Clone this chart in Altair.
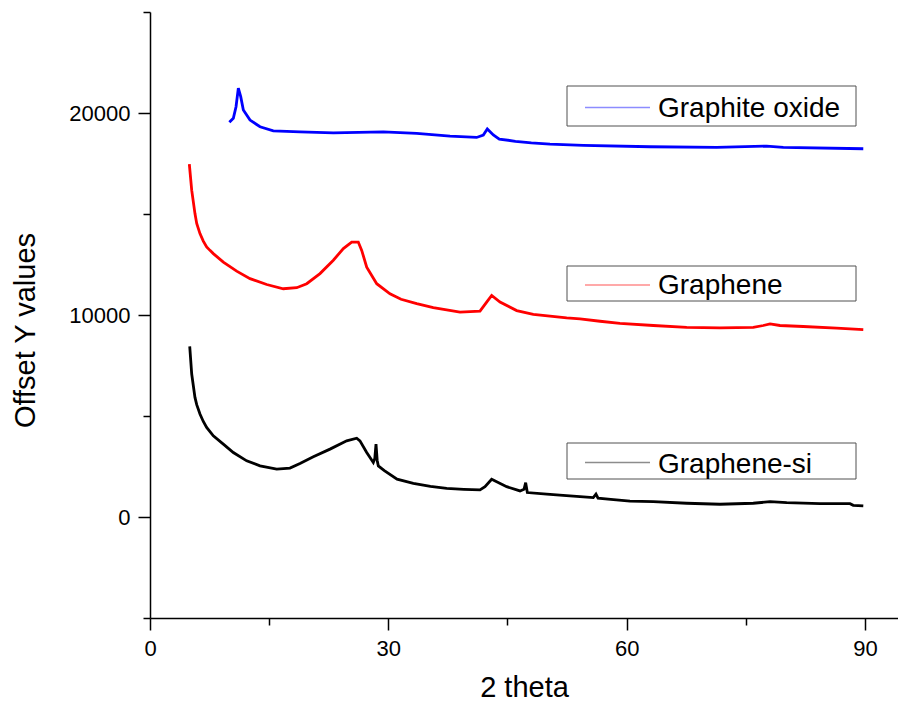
import altair as alt
import pandas as pd

# Stacked XRD patterns (offset intensities) for three samples
series_names = ["Graphite oxide", "Graphene", "Graphene-si"]
series_colors = ["#0000ff", "#ff0000", "#000000"]

go_theta = [9.99, 10.49, 10.83, 11.12, 11.42, 11.75, 12.59, 13.85, 15.52, 18.88,
            23.08, 29.37, 33.57, 37.77, 41.12, 41.96, 42.46, 43.22, 43.97, 46.0,
            48.0, 50.35, 54.55, 62.94, 71.33, 77.63, 79.72, 89.79]
go_y = [19540, 19740, 20310, 21230, 20810, 20150, 19650, 19320, 19120, 19070,
        19020, 19070, 18990, 18860, 18790, 18910, 19210, 18910, 18710, 18600,
        18520, 18460, 18400, 18330, 18300, 18360, 18300, 18230]

gr_theta = [4.95, 5.25, 5.66, 5.88, 6.29, 6.71, 7.13, 7.55, 7.97, 9.23, 10.91,
            12.59, 14.69, 16.78, 18.47, 19.73, 21.4, 23.08, 24.34, 25.39, 26.22,
            26.65, 27.28, 28.54, 30.21, 31.6, 33.57, 35.66, 39.02, 41.54, 42.38,
            43.01, 44.06, 46.16, 48.25, 52.45, 54.13, 56.65, 59.16, 63.36, 67.56,
            71.75, 75.94, 77.2, 78.05, 79.3, 82.23, 86.44, 89.79]
gr_y = [17470, 16180, 15020, 14530, 14030, 13660, 13370, 13200, 13040, 12620, 12170,
        11800, 11510, 11300, 11350, 11550, 12050, 12710, 13290, 13610, 13610,
        13200, 12370, 11550, 11050, 10780, 10560, 10360, 10140, 10190, 10640,
        10970, 10640, 10220, 10030, 9860, 9810, 9690, 9590, 9480, 9390,
        9360, 9390, 9480, 9560, 9480, 9430, 9350, 9280]

gs_theta = [5.0, 5.25, 5.66, 5.88, 6.29, 6.71, 7.13, 7.55, 7.97, 9.23, 10.49,
            12.17, 13.85, 15.95, 17.62, 18.88, 20.56, 22.66, 24.76, 26.02, 26.43,
            27.28, 28.11, 28.3, 28.45, 28.6, 28.74, 29.5, 31.1, 33.15, 35.3,
            37.35, 39.5, 41.54, 42.17, 43.01, 43.64, 44.9, 46.58, 47.08, 47.29,
            47.5, 49.94, 52.0, 54.13, 55.8, 56.14, 56.4, 58.0, 60.42, 63.36,
            67.56, 71.75, 75.94, 78.05, 80.15, 84.34, 88.12, 88.53, 89.79]
gs_y = [8450, 7080, 5920, 5560, 5100, 4730, 4430, 4230, 4020, 3610, 3190,
        2780, 2530, 2370, 2420, 2650, 2980, 3360, 3770, 3900, 3770,
        3190, 2700, 2900, 3610, 2800, 2530, 2300, 1870, 1670, 1520,
        1420, 1370, 1340, 1500, 1870, 1750, 1500, 1290, 1370, 1700,
        1210, 1130, 1070, 1010, 960, 1130, 930, 870, 790, 760,
        680, 630, 680, 760, 710, 660, 660, 580, 550]

x_ticks = [0, 15, 30, 45, 60, 75, 90]
y_ticks = [-5000, 0, 5000, 10000, 15000, 20000, 25000]

frames = []
for name, xs, ys in zip(series_names, [go_theta, gr_theta, gs_theta], [go_y, gr_y, gs_y]):
    frames.append(pd.DataFrame({"theta": xs, "y": ys, "sample": name}))
df = pd.concat(frames, ignore_index=True)

FONT = "Liberation Sans"

x_axis = alt.Axis(
    values=x_ticks,
    labelExpr="datum.value % 30 === 0 ? datum.label : ''",
    tickSize={"condition": {"test": "datum.value % 30 === 0", "value": 12}, "value": 7},
    grid=False, domainColor="black", tickColor="black", domainWidth=1.5, tickWidth=1.5,
    labelFont=FONT, labelFontSize=22, labelColor="black", labelPadding=8,
    titleFont=FONT, titleFontSize=29, titleFontWeight="normal", titleColor="black",
    titlePadding=14, labelFlush=False, labelOverlap=False,
)
y_axis = alt.Axis(
    values=y_ticks, format="d",
    labelExpr="datum.value % 10000 === 0 ? datum.label : ''",
    tickSize={"condition": {"test": "datum.value % 10000 === 0", "value": 12}, "value": 7},
    grid=False, domainColor="black", tickColor="black", domainWidth=1.5, tickWidth=1.5,
    labelFont=FONT, labelFontSize=22, labelColor="black", labelPadding=8,
    titleFont=FONT, titleFontSize=29, titleFontWeight="normal", titleColor="black",
    titlePadding=28, titleY=318, labelFlush=False, labelOverlap=False,
)

lines = alt.Chart(df).mark_line(strokeWidth=2.8, clip=True).encode(
    x=alt.X("theta:Q", title="2 theta", scale=alt.Scale(domain=[0, 94.16], nice=False, zero=False), axis=x_axis),
    y=alt.Y("y:Q", title="Offset Y values", scale=alt.Scale(domain=[-5000, 25000], nice=False, zero=False), axis=y_axis),
    color=alt.Color("sample:N", scale=alt.Scale(domain=series_names, range=series_colors), legend=None),
    detail="sample:N",
)

# Per-sample key boxes placed beside each trace (pixel offsets inside the plot area)
key_boxes = [(74, 114, 105), (254, 289, 281.5), (431, 467, 460.7)]
layers = [lines]
for name, color, (top, bottom, baseline) in zip(series_names, series_colors, key_boxes):
    kd = pd.DataFrame({"sample": [name]})
    mid = (top + bottom) / 2 + 1.5
    layers.append(alt.Chart(kd).mark_rect(fill="white", stroke="#505050", strokeWidth=1).encode(
        x=alt.value(417), x2=alt.value(706), y=alt.value(top), y2=alt.value(bottom)))
    layers.append(alt.Chart(kd).mark_rule(color=color, opacity=0.45, strokeWidth=1.5).encode(
        x=alt.value(435), x2=alt.value(500), y=alt.value(mid)))
    layers.append(alt.Chart(kd).mark_text(align="left", baseline="alphabetic", font=FONT,
                                          fontSize=28, color="black").encode(
        x=alt.value(508), y=alt.value(baseline), text="sample:N"))

chart = alt.layer(*layers).properties(
    width=748, height=606,
    autosize=alt.AutoSizeParams(type="none"),
    padding={"left": 150, "top": 12, "right": 0, "bottom": 89},
    background="white",
).configure_view(stroke=None)

chart.save("out.html", embed_options={"renderer": "svg", "actions": False})
